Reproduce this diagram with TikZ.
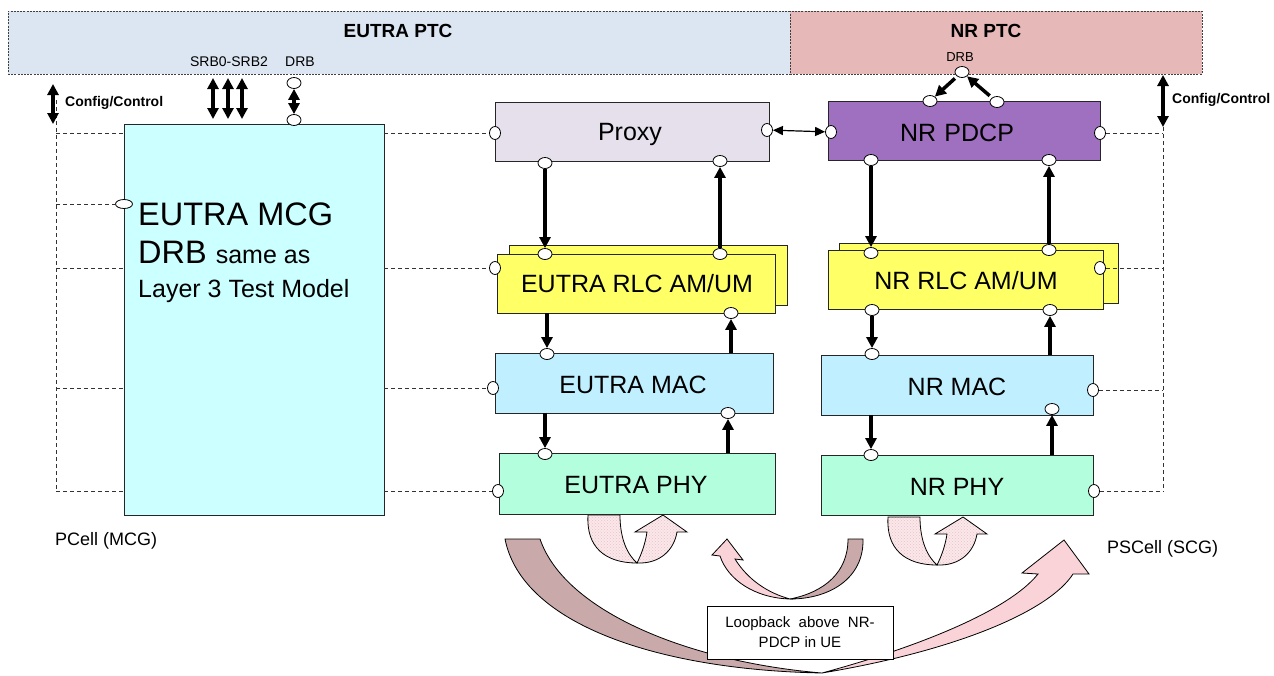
\documentclass[tikz,border=0pt]{standalone}
\usepackage{fontspec}
\setmainfont{Liberation Sans}
\usetikzlibrary{arrows.meta,shapes.geometric,patterns}
\definecolor{eptcC}{HTML}{DCE6F2}
\definecolor{nptcC}{HTML}{E6B9B8}
\definecolor{mcgC}{HTML}{CCFFFF}
\definecolor{proxyC}{HTML}{E6E0EC}
\definecolor{pdcpC}{HTML}{A070C0}
\definecolor{rlcC}{HTML}{FFFF66}
\definecolor{macC}{HTML}{C0F0FF}
\definecolor{phyC}{HTML}{B3FFDD}
\definecolor{brownC}{HTML}{C9A9A9}
\definecolor{pinkC}{HTML}{FAD3D8}
\definecolor{hatchC}{HTML}{FAE8EA}
\definecolor{dotC}{HTML}{EBC0C6}
\begin{document}
\begin{tikzpicture}[x=1pt,y=-1pt,
  blk/.style={draw=black!85, line width=0.9pt, inner sep=0pt, font=\fontsize{25}{29}\selectfont},
  hdr/.style={draw=black!75, line width=0.8pt, dash pattern=on 2pt off 1.2pt, inner sep=0pt},
  title/.style={inner sep=0pt, font=\fontsize{19}{22}\selectfont\bfseries},
  small/.style={inner sep=0pt, font=\fontsize{14}{16}\selectfont},
  cfg/.style={inner sep=0pt, anchor=west, font=\fontsize{14}{16}\selectfont\bfseries},
  prt/.style={ellipse, draw=black, line width=0.8pt, fill=white, minimum width=14pt, minimum height=11pt, inner sep=0pt},
  prtv/.style={ellipse, draw=black, line width=0.8pt, fill=white, minimum width=11pt, minimum height=13pt, inner sep=0pt},
  arr/.style={line width=3.5pt, -{Triangle[length=11pt,width=11pt]}},
  darr/.style={line width=3.5pt, {Triangle[length=11pt,width=11pt]}-{Triangle[length=11pt,width=11pt]}},
  thinarr/.style={line width=1.2pt, {Triangle[length=10pt,width=9pt]}-{Triangle[length=10pt,width=9pt]}},
  dsh/.style={line width=0.8pt, dash pattern=on 4pt off 3pt, draw=black!80},
  ribbon/.style={draw=black, line width=0.8pt},
  hatched/.style={ribbon, preaction={fill=hatchC}, pattern=crosshatch dots, pattern color=dotC}
]
\useasboundingbox (0,0) rectangle (1274,675);

% ---------- headers ----------
\node[hdr, fill=eptcC, minimum width=782pt, minimum height=63pt] (eptc) at (399,42.5) {};
\node[hdr, fill=nptcC, minimum width=412pt, minimum height=63pt] (nptc) at (996,42.5) {};
\node[title] (eptct) at (398,31) {EUTRA PTC};
\node[title] (nptct) at (986,31) {NR PTC};
\node[small] (srbl) at (229,62) {SRB0-SRB2};
\node[small] (drbel) at (300,62) {DRB};
\node[small, font=\fontsize{13}{15}\selectfont] (drbnl) at (960,57) {DRB};

% ---------- bottom loop arrows ----------
\begin{scope}
  \path[hatched] (588,515) .. controls (586,547) and (605,563) .. (637,563) .. controls (628,555) and (620,540) .. (620,515) -- cycle;
  \path[hatched] (637,563) .. controls (660,564) and (674,550) .. (677,532) -- (687,532) -- (663,515) -- (635,532) -- (647,532) .. controls (645,545) and (641,555) .. (637,563) -- cycle;
\end{scope}
\begin{scope}[shift={(300,2)}]
  \path[hatched] (588,515) .. controls (586,547) and (605,563) .. (637,563) .. controls (628,555) and (620,540) .. (620,515) -- cycle;
  \path[hatched] (637,563) .. controls (660,564) and (674,550) .. (677,532) -- (687,532) -- (663,515) -- (635,532) -- (647,532) .. controls (645,545) and (641,555) .. (637,563) -- cycle;
\end{scope}
% middle arrow
\path[ribbon, fill=brownC] (848,539) -- (863,539) .. controls (864,578) and (830,599) .. (790,599) .. controls (825,592) and (848,572) .. (848,539) -- cycle;
\path[ribbon, fill=pinkC] (790,599) .. controls (755,598) and (728,580) .. (720,556) -- (712,555) -- (727,539) -- (743,560) -- (735,559) .. controls (748,580) and (768,593) .. (790,599) -- cycle;
% large arrow
\path[ribbon, fill=brownC] (505,539) -- (540,539) .. controls (565,612) and (690,662) .. (822,673) .. controls (660,670) and (522,625) .. (505,539) -- cycle;
\path[ribbon, fill=pinkC] (822,673) .. controls (900,652) and (1005,615) .. (1038,574) -- (1022,573) -- (1064,540) -- (1089,574) -- (1073,574) .. controls (1050,610) and (960,650) .. (822,673) -- cycle;

% ---------- blocks ----------
\node[blk, fill=mcgC, minimum width=260pt, minimum height=391pt] (mcg) at (254,319.5) {};
\node[anchor=base west, inner sep=0pt, font=\fontsize{32.5}{36}\selectfont] (mcgt1) at (138,225) {EUTRA MCG};
\node[anchor=base west, inner sep=0pt, font=\fontsize{32.5}{36}\selectfont] (mcgt2) at (138,263) {DRB {\fontsize{25}{28}\selectfont same as}};
\node[anchor=base west, inner sep=0pt, font=\fontsize{25}{28}\selectfont] (mcgt3) at (138,297) {Layer 3 Test Model};

\node[blk, fill=proxyC, minimum width=274pt, minimum height=59pt] (proxy) at (632,131.5) {};
\node[inner sep=0pt, font=\fontsize{25}{29}\selectfont] (proxyt) at (630,134) {Proxy};
\node[blk, fill=pdcpC, minimum width=272pt, minimum height=59pt] (pdcp) at (964,130.5) {};
\node[inner sep=0pt, font=\fontsize{25}{29}\selectfont] (pdcpt) at (957,133) {NR\,\,PDCP};

\node[blk, fill=rlcC, minimum width=278pt, minimum height=60pt] (erlcb) at (648,275) {};
\node[blk, fill=rlcC, minimum width=278pt, minimum height=59pt] (erlc) at (636,283.5) {};
\node[inner sep=0pt, font=\fontsize{25}{29}\selectfont] (erlct) at (637,284) {EUTRA RLC AM/UM};
\node[blk, fill=rlcC, minimum width=279pt, minimum height=60pt] (nrlcb) at (978.5,273) {};
\node[blk, fill=rlcC, minimum width=275pt, minimum height=59pt] (nrlc) at (965.5,279.5) {};
\node[inner sep=0pt, font=\fontsize{25}{29}\selectfont] (nrlct) at (966,281) {NR RLC AM/UM};

\node[blk, fill=macC, minimum width=278pt, minimum height=60pt] (emac) at (634,383) {};
\node[inner sep=0pt, font=\fontsize{25}{29}\selectfont] (emact) at (633,385) {EUTRA MAC};
\node[blk, fill=phyC, minimum width=276pt, minimum height=61pt] (ephy) at (637,483.5) {};
\node[inner sep=0pt, font=\fontsize{25}{29}\selectfont] (ephyt) at (636,485) {EUTRA PHY};
\node[blk, fill=macC, minimum width=272pt, minimum height=60pt] (nmac) at (957,385) {};
\node[inner sep=0pt, font=\fontsize{25}{29}\selectfont] (nmact) at (957,387) {NR MAC};
\node[blk, fill=phyC, minimum width=272pt, minimum height=60pt] (nphy) at (957,485) {};
\node[inner sep=0pt, font=\fontsize{25}{29}\selectfont] (nphyt) at (957,487) {NR PHY};

% ---------- ports ----------
\node[prt] (drbEt) at (294,83) {};
\node[prt] (drbEb) at (294,120) {};
\node[prt, minimum width=17pt, minimum height=9pt] (mcgl) at (124,204) {};
\node[prtv] (pl) at (495,133) {};
\node[prtv] (pr) at (767,130) {};
\node[prt] (pb1) at (545,163) {};
\node[prt] (pb2) at (720,161) {};
\node[prtv] (dl) at (831,132) {};
\node[prtv] (dr) at (1100,133) {};
\node[prt] (dt1) at (930,101) {};
\node[prt] (dt2) at (997,102) {};
\node[prt] (db1) at (871,160) {};
\node[prt] (db2) at (1049,160) {};
\node[prt] (drbN) at (962,72) {};
\node[prtv] (el) at (495,268) {};
\node[prt] (et1) at (545,254) {};
\node[prt] (et2) at (720,254) {};
\node[prt] (eb2) at (731,313) {};
\node[prtv] (nr) at (1100,268) {};
\node[prt] (nt1) at (871,253) {};
\node[prt] (nt2) at (1049,250) {};
\node[prt] (nb1) at (872,310) {};
\node[prt] (nb2) at (1050,310) {};
\node[prt] (mt) at (547,354) {};
\node[prtv] (ml) at (493,388) {};
\node[prt] (mb2) at (728,413) {};
\node[prt] (ept) at (545,454) {};
\node[prtv] (phl) at (498,491) {};
\node[prt] (nmt) at (872,354) {};
\node[prtv] (nmr) at (1093,390) {};
\node[prt] (nmb2) at (1052,409) {};
\node[prt] (npt) at (871,455) {};
\node[prtv] (npr) at (1094,491) {};

% ---------- free-end coordinates ----------
\coordinate (lc1) at (53,84);
\coordinate (lc2) at (53,124);
\coordinate (lvt) at (56,100);
\coordinate (rc1) at (1163,75);
\coordinate (rvt) at (1163,127);
\coordinate (s1t) at (213,78); \coordinate (s1b) at (213,119);
\coordinate (s2t) at (228,78); \coordinate (s2b) at (228,119);
\coordinate (s3t) at (242,78); \coordinate (s3b) at (242,119);

% ---------- dashed control lines ----------
\draw[dsh] (lvt) -- (lvt |- phl);
\foreach \p in {pl,el,ml,phl} {
  \draw[dsh] (lvt |- \p) -- (mcg.west |- \p);
  \draw[dsh] (mcg.east |- \p) -- (\p);
}
\draw[dsh] (lvt |- mcgl) -- (mcgl);
\draw[dsh] (rvt) -- (rvt |- npr);
\foreach \p in {dr,nr,nmr,npr} {
  \draw[dsh] (\p) -- (rvt |- \p);
}

% ---------- arrows ----------
\draw[darr] (lc1) -- (lc2);
\draw[darr] (rc1) -- (rvt);
\draw[darr] (s1t) -- (s1b);
\draw[darr] (s2t) -- (s2b);
\draw[darr] (s3t) -- (s3b);
\draw[darr] (drbEt) -- (drbEb);
\draw[thinarr] (pr) -- (dl);
\draw[arr, shorten <=3pt] (drbN) -- (dt1);
\draw[arr, shorten <=3pt] (dt2) -- (drbN);

\draw[arr] (pb1) -- (et1);
\draw[arr] (et2) -- (pb2);
\draw[arr] (erlc.south -| mt) -- (mt);
\draw[arr] (emac.north -| eb2) -- (eb2);
\draw[arr] (emac.south -| ept) -- (ept);
\draw[arr] (ephy.north -| mb2) -- (mb2);

\draw[arr] (db1) -- (nt1);
\draw[arr] (nt2) -- (db2);
\draw[arr] (nb1) -- (nmt);
\draw[arr] (nmac.north -| nb2) -- (nb2);
\draw[arr] (nmac.south -| npt) -- (npt);
\draw[arr] (nphy.north -| nmb2) -- (nmb2);

% ---------- labels ----------
\node[cfg] (cfgl) at (65,103) {Config/Control};
\node[cfg] (cfgr) at (1172,100) {Config/Control};
\node[inner sep=0pt, anchor=west, font=\fontsize{18}{21}\selectfont] (pcell) at (55,541) {PCell (MCG)};
\node[inner sep=0pt, anchor=west, font=\fontsize{18}{21}\selectfont] (pscell) at (1107,549) {PSCell (SCG)};
\node[draw=black, line width=0.8pt, fill=white, minimum width=186pt, minimum height=53pt, align=center, inner sep=0pt, font=\fontsize{15}{20}\selectfont] (loop) at (800,632.5) {Loopback\ \ above\ \ NR-\\PDCP in UE};
\end{tikzpicture}
\end{document}
